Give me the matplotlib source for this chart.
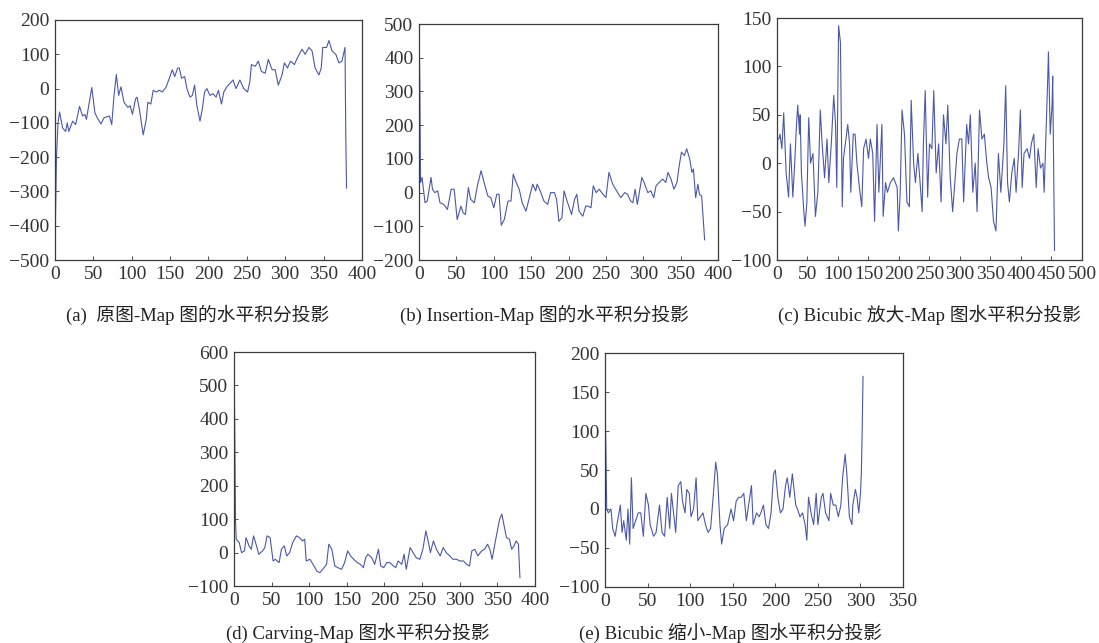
import matplotlib
matplotlib.use("Agg")
import matplotlib.pyplot as plt

plt.rcParams.update({
    "font.family": ["Liberation Serif", "Noto Sans CJK SC"],
    "font.size": 14,
    "axes.linewidth": 0.9,
    "axes.edgecolor": "#3a3a3a",
    "xtick.color": "#333333",
    "ytick.color": "#333333",
})

# (a) original map
xa = [0, 2, 4, 6, 10, 14, 16, 18, 23, 27, 32, 36, 39, 41, 48, 52, 55, 60, 64, 71,
      74, 77, 80, 83, 86, 90, 95, 98, 101, 105, 107, 110, 114, 115, 119, 121, 125, 128,
      132, 136, 140, 145, 149, 153, 156, 160, 162, 165, 169, 172, 176, 179, 182, 185,
      189, 192, 195, 198, 202, 206, 210, 213, 217, 220, 224, 228, 232, 236, 241, 246,
      251, 254, 256, 261, 265, 269, 274, 278, 283, 287, 291, 296, 299, 303, 307, 312,
      316, 322, 326, 331, 335, 339, 344, 347, 349, 354, 357, 361, 366, 370, 374, 378,
      379, 380]
ya = [-470, -200, -100, -68, -115, -125, -100, -125, -95, -105, -52, -80, -75, -90, 3,
      -70, -85, -103, -85, -80, -105, -20, 41, -20, 5, -40, -55, -50, -75, -30, -25,
      -60, -120, -135, -90, -40, -45, -5, -10, -5, -10, 5, 30, 55, 35, 60, 60, 30, 35,
      0, -25, -20, 10, -50, -95, -60, -10, 0, -20, -15, -25, -5, -45, -10, 5, 15, 25,
      0, 25, 0, -10, 20, 70, 65, 80, 50, 45, 85, 55, 55, 10, 40, 75, 60, 80, 70, 90,
      115, 100, 120, 110, 60, 40, 60, 120, 120, 140, 110, 100, 75, 80, 120, -140, -290]

# (b) insertion map
xb = [0, 1, 2, 4, 8, 11, 16, 18, 21, 25, 28, 33, 38, 43, 47, 51, 56, 59, 62, 66, 69,
      74, 78, 83, 87, 92, 96, 100, 104, 107, 110, 114, 119, 123, 126, 129, 134, 138,
      143, 147, 152, 156, 158, 163, 167, 172, 176, 181, 184, 187, 191, 194, 198, 201,
      204, 208, 211, 214, 219, 223, 226, 230, 233, 237, 241, 246, 250, 254, 259, 263,
      267, 270, 275, 279, 283, 286, 289, 292, 298, 301, 306, 310, 314, 317, 321, 326,
      330, 333, 337, 341, 345, 348, 351, 355, 358, 362, 365, 367, 370, 373, 375, 378,
      382]
yb = [490, 330, 30, 45, -30, -25, 45, 10, 0, 5, -30, -35, -50, 10, 10, -80, -40, -60,
      -65, 15, -20, -30, 20, 65, 30, -10, -15, -45, -5, -5, -97, -80, -25, -25, 55,
      35, 10, -30, -55, -20, 25, 5, 25, 0, -25, -35, 0, 0, -20, -85, -75, 5, -25, -45,
      -65, -20, -5, -55, -70, -40, -40, -45, 20, 0, 10, -5, -15, 60, 25, 10, -5, -15,
      0, -5, -25, -30, 10, -35, 45, 30, 0, 5, -15, 20, 30, 40, 30, 60, 40, 10, 30, 80,
      120, 110, 130, 100, 60, 70, -15, 25, -5, -10, -140]

# (c) bicubic enlarged map
xc = [0, 1, 3, 5, 8, 11, 15, 19, 22, 26, 29, 32, 34, 37, 38, 40, 44, 46, 49, 52, 55,
      59, 63, 67, 71, 74, 78, 82, 85, 89, 93, 96, 98, 101, 104, 107, 109, 112, 116,
      119, 121, 125, 128, 131, 136, 139, 142, 146, 150, 153, 157, 160, 164, 167, 172,
      174, 178, 181, 186, 191, 197, 199, 202, 205, 209, 213, 217, 220, 224, 227, 231,
      234, 238, 240, 243, 247, 250, 254, 257, 261, 265, 269, 273, 277, 280, 284, 288,
      291, 295, 299, 303, 306, 311, 314, 317, 321, 325, 328, 332, 336, 340, 344, 347,
      351, 355, 359, 363, 367, 372, 375, 378, 381, 385, 389, 392, 396, 399, 402, 405,
      410, 414, 417, 421, 425, 428, 432, 436, 438, 441, 444, 445, 448, 451, 452, 455]
yc = [-30, 25, 25, 30, 15, 52, -10, -35, 20, -35, 0, 40, 60, 30, 50, -10, -50, -65, -40,
      47, 0, 10, -55, -30, 55, 20, -15, 25, -20, 20, 70, 40, -25, 142, 125, -45, 5, 20,
      40, 20, -30, 30, 30, 0, -30, -45, 15, 25, 5, 25, 10, -60, 40, -30, 40, -55, -20,
      -30, -20, -15, -25, -70, -30, 55, 30, -40, -45, 65, 0, -20, 10, -15, -50, 20, 75,
      -35, 20, 15, 75, -10, 20, -40, 50, 20, 60, -15, -50, -25, 10, 25, 25, -40, 40,
      20, 50, -30, 0, -50, 55, 25, 30, 0, -15, -25, -60, -70, 10, -30, 20, 80, -20,
      -40, -10, 5, -30, 10, 55, -25, 10, 15, 5, 20, 30, -25, 15, -5, 0, -30, 30, 90,
      115, 30, 60, 90, -90]

# (d) carving map
xd = [0, 1, 2, 3, 7, 10, 14, 16, 20, 23, 26, 30, 33, 38, 41, 44, 48, 52, 55, 60, 63,
      67, 70, 74, 78, 83, 87, 91, 94, 96, 101, 105, 110, 114, 118, 123, 126, 130, 134,
      138, 143, 147, 151, 155, 159, 164, 168, 172, 175, 178, 183, 187, 192, 195, 199,
      203, 207, 212, 215, 218, 223, 226, 229, 234, 238, 242, 247, 251, 255, 258, 261,
      265, 269, 274, 278, 282, 287, 291, 296, 300, 305, 309, 313, 316, 320, 324, 329,
      333, 337, 340, 343, 347, 350, 353, 356, 359, 362, 366, 369, 372, 375, 378, 380]
yd = [550, 380, 100, 40, 30, 0, 5, 45, 20, 10, 50, 20, -5, 5, 15, 50, 45, -25, -20,
      -30, 10, 20, -10, 0, 30, 50, 45, 35, 40, -25, -20, -35, -55, -60, -50, -35, 25,
      10, -40, -45, -50, -30, 5, -10, -20, -30, -35, -45, -15, -5, -15, -35, 10, -40,
      -45, -30, -30, -40, -45, -25, -35, -5, -50, 15, 0, -15, -20, 10, 65, 35, 0, 35,
      10, -10, 15, 0, -10, -20, -20, -25, -25, -35, -40, 5, 10, -10, 5, 10, 25, 10,
      -20, 30, 65, 100, 115, 80, 45, 40, 10, 20, 35, 25, -75]

# (e) bicubic reduced map
xe = [0, 1, 2, 4, 7, 9, 12, 14, 18, 20, 22, 25, 27, 29, 31, 33, 36, 39, 42, 45, 48,
      51, 53, 57, 60, 64, 67, 70, 73, 76, 78, 81, 83, 86, 89, 91, 94, 96, 99, 101, 104,
      107, 109, 112, 115, 118, 121, 124, 127, 130, 132, 135, 137, 140, 144, 148, 151,
      154, 157, 160, 163, 166, 168, 172, 174, 178, 181, 183, 186, 189, 192, 195, 198,
      200, 203, 206, 209, 212, 214, 217, 220, 224, 226, 229, 232, 235, 237, 239, 242,
      245, 248, 250, 254, 256, 259, 263, 265, 268, 271, 274, 277, 279, 282, 284, 287,
      290, 291, 294, 296, 298, 300, 301, 302, 303]
ye = [130, 80, 0, -5, 0, -25, -35, -20, 5, -30, -15, -40, 0, -45, 40, -25, -15, -5,
      -5, -35, 20, 5, -20, -35, -30, 5, -30, -35, 15, -25, 20, -10, -30, 30, 35, 10,
      -5, 25, 20, -10, 0, 40, -15, -10, -5, -20, -30, -25, 15, 60, 45, -20, -45, -25,
      -20, 0, -15, 10, 15, 15, 20, -15, 0, 30, -20, -5, -10, -5, 5, -20, -25, -5, 45,
      50, 15, -5, 0, 30, 40, 15, 45, 5, 0, -10, -5, -20, -40, 15, -5, -20, 20, -20,
      15, 20, -5, -15, 20, 5, 5, -10, 5, 40, 70, 45, -10, -20, 5, 25, 15, -5, 20, 45,
      100, 170]

panels = [
    (xa, ya, (0, 400), (-500, 200), range(-500, 201, 100), range(0, 401, 50),
     [0.050, 0.5956, 0.2793, 0.3733], "(a)  原图-Map 图的水平积分投影", (0.180, 0.510)),
    (xb, yb, (0, 400), (-200, 500), range(-200, 501, 100), range(0, 401, 50),
     [0.3813, 0.5956, 0.2721, 0.3670], "(b) Insertion-Map 图的水平积分投影", (0.495, 0.510)),
    (xc, yc, (0, 500), (-100, 150), range(-100, 151, 50), range(0, 501, 50),
     [0.7070, 0.5956, 0.2775, 0.3764], "(c) Bicubic 放大-Map 图水平积分投影", (0.846, 0.510)),
    (xd, yd, (0, 400), (-100, 600), range(-100, 601, 100), range(0, 401, 50),
     [0.2129, 0.0886, 0.2739, 0.3639], "(d) Carving-Map 图水平积分投影", (0.326, 0.0165)),
    (xe, ye, (0, 350), (-100, 200), range(-100, 201, 50), range(0, 351, 50),
     [0.5505, 0.0871, 0.2712, 0.3639], "(e) Bicubic 缩小-Map 图水平积分投影", (0.665, 0.0165)),
]

fig = plt.figure(figsize=(10.99, 6.43), dpi=100)
for x, y, xl, yl, yt, xt, rect, cap, cpos in panels:
    ax = fig.add_axes(rect)
    ax.plot(x, y, color="#4b58a8", lw=0.8)
    ax.set_xlim(*xl)
    ax.set_ylim(*yl)
    ax.set_xticks(list(xt))
    ax.set_yticks(list(yt))
    ax.tick_params(direction="in", length=3, width=0.6, labelsize=14, pad=4)
    fig.text(cpos[0], cpos[1], cap, ha="center", va="center", fontsize=13.5,
             color="#222222")

fig.savefig("out.png", dpi=100)
